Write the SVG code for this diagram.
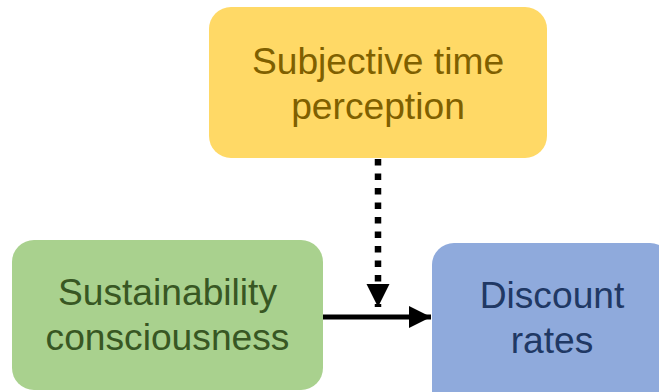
<svg xmlns="http://www.w3.org/2000/svg" width="659" height="392" viewBox="0 0 659 392">
<style>
text{font-family:"Liberation Sans",Arial,sans-serif;font-size:37.2px;text-anchor:middle}
.y text{fill:#7F6000}.g text{fill:#385723}.b text{fill:#203864}
</style>
<defs>
<marker id="ah" viewBox="0 0 10 10" refX="10" refY="5" markerWidth="4.4" markerHeight="4.4" markerUnits="strokeWidth" orient="auto"><path d="M0,0L10,5L0,10z" fill="#000"/></marker>
<marker id="ah2" viewBox="0 0 10 10" refX="10" refY="5" markerWidth="3.6" markerHeight="3.6" markerUnits="strokeWidth" orient="auto"><path d="M0,0L10,5L0,10z" fill="#000"/></marker>
</defs>
<rect width="659" height="392" fill="#fff"/>
<g id="node-time" class="y">
<rect x="209" y="7" width="338" height="151" rx="22" fill="#FFD966"/>
<text x="378" y="74">Subjective time</text>
<text x="378" y="119">perception</text>
</g>
<g id="node-sust" class="g">
<rect x="12" y="240" width="311" height="150" rx="22" fill="#A9D18E"/>
<text x="167.5" y="305">Sustainability</text>
<text x="167.5" y="350">consciousness</text>
</g>
<g id="node-disc" class="b">
<rect x="432" y="243" width="240" height="170" rx="22" fill="#8FAADC"/>
<text x="552" y="308">Discount</text>
<text x="552" y="353">rates</text>
</g>
<g id="connectors">
<line x1="323" y1="317" x2="431" y2="317" stroke="#000" stroke-width="5" marker-end="url(#ah)"/>
<line x1="378" y1="159" x2="378" y2="307" stroke="#000" stroke-width="6.5" stroke-dasharray="6.5 8" marker-end="url(#ah2)"/>
</g>
</svg>
